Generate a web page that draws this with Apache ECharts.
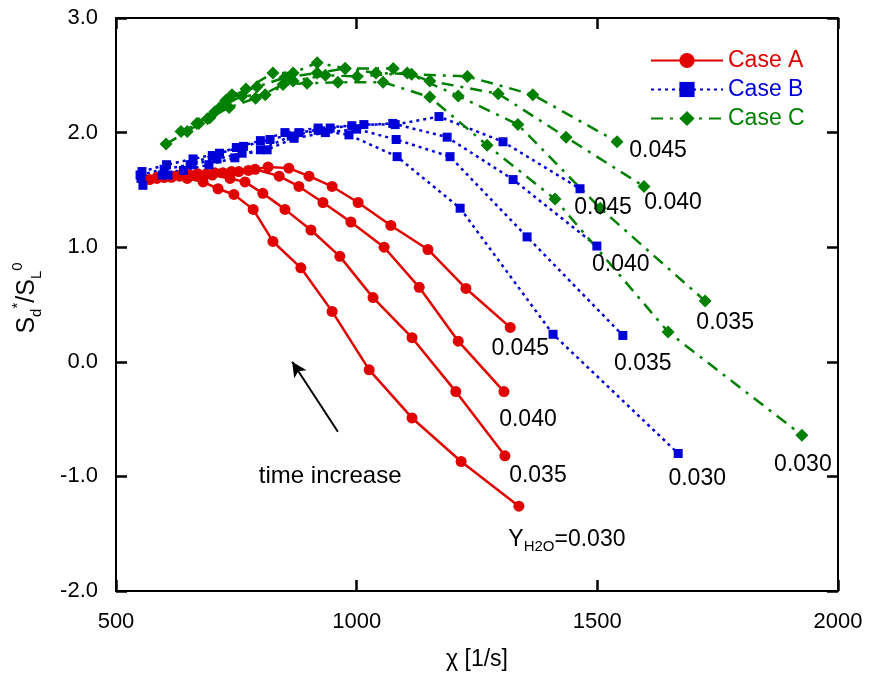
<!DOCTYPE html>
<html>
<head>
<meta charset="utf-8">
<script src="https://cdn.jsdelivr.net/npm/echarts@6/dist/echarts.min.js"></script>
<style>
  html, body { margin: 0; padding: 0; background: #fff; }
  #chart { width: 872px; height: 684px; }
</style>
</head>
<body>
<div id="chart"></div>
<script>
// Case A (red, solid) - one list per Y_H2O
const A030 = [[556,1.60],[585,1.61],[615,1.61],[648,1.60],[681,1.57],[712,1.51],[745,1.46],[785,1.33],[826,1.05],[884,0.82],[949,0.44],[1026,-0.07],[1115,-0.49],[1217,-0.87],[1337,-1.26]]
const A035 = [[570,1.59],[600,1.61],[632,1.62],[665,1.63],[700,1.63],[737,1.60],[768,1.57],[805,1.47],[851,1.33],[905,1.15],[965,0.92],[1034,0.56],[1115,0.21],[1206,-0.26],[1308,-0.82]]
const A040 = [[585,1.60],[618,1.62],[652,1.63],[688,1.64],[722,1.65],[755,1.66],[789,1.68],[839,1.62],[880,1.53],[930,1.39],[988,1.22],[1057,1.00],[1130,0.65],[1211,0.18],[1306,-0.26]]
const A045 = [[600,1.61],[635,1.63],[670,1.64],[705,1.65],[740,1.66],[775,1.67],[816,1.70],[859,1.69],[901,1.62],[949,1.53],[1003,1.39],[1071,1.19],[1148,0.98],[1227,0.64],[1319,0.30]]

// Case B (blue, dotted)
const B030 = [[556,1.54],[596,1.63],[640,1.67],[693,1.72],[747,1.78],[800,1.85],[864,1.97],[920,2.02],[984,1.98],[1084,1.79],[1215,1.34],[1408,0.24],[1668,-0.80]]
const B035 = [[552,1.60],[608,1.63],[658,1.72],[710,1.77],[762,1.82],[814,1.85],[870,1.95],[935,2.00],[1000,2.03],[1082,1.94],[1194,1.79],[1354,1.09],[1553,0.23]]
const B040 = [[550,1.63],[600,1.68],[654,1.72],[700,1.80],[750,1.87],[800,1.93],[851,2.00],[920,2.04],[990,2.06],[1075,2.08],[1188,1.96],[1325,1.59],[1499,1.01]]
const B045 = [[554,1.66],[605,1.72],[660,1.77],[715,1.82],[765,1.88],[820,1.94],[880,2.00],[945,2.04],[1015,2.07],[1080,2.07],[1171,2.14],[1304,1.92],[1464,1.51]]

// Case C (green, dash-dot)
const C030 = [[604,1.90],[648,2.01],[690,2.12],[735,2.22],[790,2.30],[847,2.42],[897,2.43],[961,2.44],[1055,2.44],[1152,2.31],[1271,1.89],[1412,1.42],[1647,0.26],[1925,-0.64]]
const C035 = [[635,2.01],[672,2.08],[716,2.22],[762,2.32],[810,2.33],[868,2.45],[935,2.50],[1001,2.49],[1105,2.52],[1211,2.32],[1335,2.07],[1506,1.34],[1724,0.53]]
const C040 = [[668,2.08],[705,2.18],[741,2.33],[793,2.40],[851,2.48],[918,2.52],[976,2.56],[1076,2.56],[1152,2.45],[1294,2.34],[1435,1.96],[1597,1.53]]
const C045 = [[695,2.13],[728,2.28],[770,2.38],[826,2.52],[868,2.52],[918,2.61],[976,2.56],[1040,2.52],[1114,2.51],[1230,2.49],[1366,2.33],[1541,1.92]]

const endLabels = ['0.030', '0.035', '0.040', '0.045']
const arrowFrom = [961, -0.61]
const arrowTo = [866, 0.0]
const noteAt = [945, -1.0]

const FONT = 'Liberation Sans, Arial, sans-serif'
const RED = '#e00000'
const BLUE = '#0000d8'
const GREEN = '#008000'

// where each end label sits relative to its last point (pixels)
const offA = [[48, 33], [33, 20], [24, 28], [10, 21]]
const offB = [[19, 25], [20, 28], [24, 19], [23, 19]]
const offC = [[1, 30], [20, 22], [29, 16], [41, 9]]

function withLabel (pts, text, off, rich) {
  return pts.map(function (p, i) {
    if (i !== pts.length - 1) return p
    return {
      value: p,
      label: {
        show: true,
        position: 'inside',
        offset: off,
        formatter: text,
        color: '#000',
        fontSize: 23,
        fontFamily: FONT,
        rich: rich
      }
    }
  })
}

const subRich = {
  n: { fontSize: 23, fontFamily: FONT, color: '#000', lineHeight: 30 },
  s: { fontSize: 15, fontFamily: FONT, color: '#000', verticalAlign: 'bottom' }
}

function mk (name, pts, i, color, symbol, size, lineType, off) {
  let text = endLabels[i]
  let rich
  if (name === 'Case A' && i === 0) {
    text = '{n|Y}{s|H2O}{n|=0.030}'
    rich = subRich
  }
  return {
    name: name,
    type: 'line',
    data: withLabel(pts, text, off[i], rich),
    symbol: symbol,
    symbolSize: size,
    showAllSymbol: true,
    itemStyle: { color: color },
    lineStyle: { color: color, width: 2.5, type: lineType },
    label: { show: false },
    emphasis: { disabled: true },
    animation: false,
    clip: false
  }
}

const series = []
;[A030, A035, A040, A045].forEach(function (d, i) {
  series.push(mk('Case A', d, i, RED, 'circle', 11, 'solid', offA))
})
;[B030, B035, B040, B045].forEach(function (d, i) {
  series.push(mk('Case B', d, i, BLUE, 'rect', 9, [3, 4], offB))
})
;[C030, C035, C040, C045].forEach(function (d, i) {
  series.push(mk('Case C', d, i, GREEN, 'diamond', 13, [12, 7, 3, 7], offC))
})

// arrow + "time increase" note
series.push({
  name: 'note',
  type: 'line',
  data: [],
  animation: false,
  markLine: {
    silent: true,
    symbol: ['none', 'arrow'],
    symbolSize: [11, 15],
    label: { show: false },
    lineStyle: { color: '#000', width: 2, type: 'solid' },
    data: [[{ coord: arrowFrom }, { coord: arrowTo }]]
  },
  markPoint: {
    silent: true,
    symbol: 'circle',
    symbolSize: 1,
    itemStyle: { color: 'rgba(0,0,0,0)' },
    label: { show: true, position: 'inside', color: '#000', fontSize: 24, fontFamily: FONT, formatter: 'time increase' },
    data: [{ coord: noteAt }]
  }
})

const axisCommon = {
  type: 'value',
  axisLine: { show: true, onZero: false, lineStyle: { color: '#000', width: 2 } },
  axisTick: { show: true, inside: true, length: 11, lineStyle: { color: '#000', width: 2.5 } },
  splitLine: { show: false }
}

const chart = echarts.init(document.getElementById('chart'))
chart.setOption({
  animation: false,
  backgroundColor: '#fff',
  grid: { left: 116, right: 34, top: 18, bottom: 93 },
  legend: {
    orient: 'vertical',
    left: 645,
    top: 43,
    itemWidth: 72,
    itemHeight: 19,
    itemGap: 4,
    selectedMode: false,
    textStyle: { fontSize: 23, fontFamily: FONT, lineHeight: 25 },
    data: [
      { name: 'Case A', textStyle: { color: RED } },
      { name: 'Case B', textStyle: { color: BLUE } },
      { name: 'Case C', textStyle: { color: GREEN } }
    ]
  },
  xAxis: [
    Object.assign({}, axisCommon, {
      min: 500, max: 2000, interval: 500,
      name: 'χ [1/s]',
      nameLocation: 'middle',
      nameGap: 57,
      nameTextStyle: { fontSize: 23, fontFamily: FONT, color: '#000' },
      axisLabel: {
        fontSize: 22, fontFamily: FONT, color: '#000', margin: 20,
        formatter: function (v) { return String(v) }
      }
    }),
    Object.assign({}, axisCommon, {
      position: 'top', min: 500, max: 2000, interval: 500,
      axisLabel: { show: false }
    })
  ],
  yAxis: [
    Object.assign({}, axisCommon, {
      min: -2, max: 3, interval: 1,
      axisLabel: {
        fontSize: 22, fontFamily: FONT, color: '#000', margin: 18,
        formatter: function (v) { return v.toFixed(1) }
      }
    }),
    Object.assign({}, axisCommon, {
      position: 'right', min: -2, max: 3, interval: 1,
      axisLabel: { show: false }
    })
  ],
  graphic: [{
    type: 'text',
    x: 27,
    y: 298,
    rotation: Math.PI / 2,
    style: {
      text: '{m|S}{b|d}{t|*}{m|/S}{b|L}{t|0}',
      align: 'center',
      verticalAlign: 'middle',
      fill: '#000',
      rich: {
        m: { fontSize: 25, fontFamily: FONT, lineHeight: 34, fill: '#000' },
        b: { fontSize: 15, fontFamily: FONT, verticalAlign: 'bottom', fill: '#000' },
        t: { fontSize: 15, fontFamily: FONT, verticalAlign: 'top', fill: '#000' }
      }
    }
  }],
  series: series
})
</script>
</body>
</html>
